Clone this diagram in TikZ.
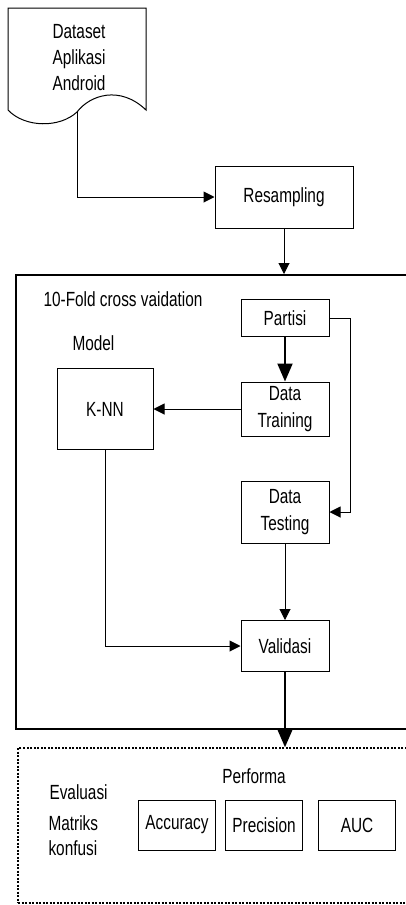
\documentclass[tikz,border=0pt]{standalone}
\usepackage{fontspec}
\setmainfont{Liberation Sans}[FakeStretch=0.75]
\usetikzlibrary{arrows.meta}

\tikzset{
	box/.style={draw,line width=1pt,inner sep=0pt,align=center},
	arr/.style={line width=1pt,-{Triangle[length=11pt,width=11pt]}},
	thickarr/.style={line width=2pt,-{Triangle[length=18pt,width=15pt]}}
}

\begin{document}
\begin{tikzpicture}[x=1pt,y=-1pt,every node/.style={font=\fontsize{20.5}{26}\selectfont}]
		\useasboundingbox (0,0) rectangle (406,905);
		\clip (0,0) rectangle (406,905);
		\draw[line width=1pt] (8,8) -- (146,8) -- (146,110) .. controls (120,85) and (90,95) .. (77,112) .. controls (60,128) and (25,128) .. (8,110) -- cycle;
		\coordinate (datasetout) at (77,112);
		\node[anchor=west,align=left] (dataset) at (49,58) {Dataset\\Aplikasi\\Android};
		\node[box,minimum width=138,minimum height=62] (resampling) at (284,197) {Resampling};
		\node[draw,line width=2pt,inner sep=0pt,minimum width=404,minimum height=454] (fold) at (218,502) {};
		\node[anchor=west] (foldlabel) at (40,299) {10-Fold cross vaidation};
		\node[anchor=west] (modellabel) at (69,343) {Model};
		\node[box,minimum width=88,minimum height=37] (partisi) at (285,318) {Partisi};
		\node[box,minimum width=88,minimum height=54,font=\fontsize{20.5}{27}\selectfont] (training) at (285,409) {Data\\Training};
		\node[box,minimum width=96,minimum height=81] (knn) at (105,409) {K-NN};
		\node[box,minimum width=88,minimum height=62,font=\fontsize{20.5}{27}\selectfont] (testing) at (285,512) {Data\\Testing};
		\node[box,minimum width=88,minimum height=51] (validasi) at (285,646) {Validasi};
		\node[draw,line width=1.5pt,dash pattern=on 2pt off 1.5pt,inner sep=0pt,minimum width=402,minimum height=155] (evaluasi) at (219,825.5) {};
		\node (performa) at (254,776) {Performa};
		\node[anchor=west] (evallabel) at (46,792) {Evaluasi};
		\node[anchor=west,align=left,font=\fontsize{20.5}{25}\selectfont] (matriks) at (45,836) {Matriks\\konfusi};
		\node[box,minimum width=77,minimum height=50] (accuracy) at (177,825) {Accuracy};
		\node[box,minimum width=77,minimum height=50] (precision) at (264,825) {Precision};
		\node[box,minimum width=77,minimum height=50] (auc) at (357,825) {AUC};
		\draw[arr] (datasetout) |- (resampling.west);
		\draw[arr] (resampling.south) -- (resampling |- fold.north);
		\draw[thickarr] (partisi.south) -- (training.north);
		\draw[arr] (training.west) -- (knn.east);
		\draw[arr] (partisi.east) -- ++(21,0) |- (testing.east);
		\draw[arr] (testing.south) -- (validasi.north);
		\draw[arr] (knn.south) |- (validasi.west);
		\draw[thickarr] (validasi.south) -- (validasi |- evaluasi.north);
\end{tikzpicture}
\end{document}
